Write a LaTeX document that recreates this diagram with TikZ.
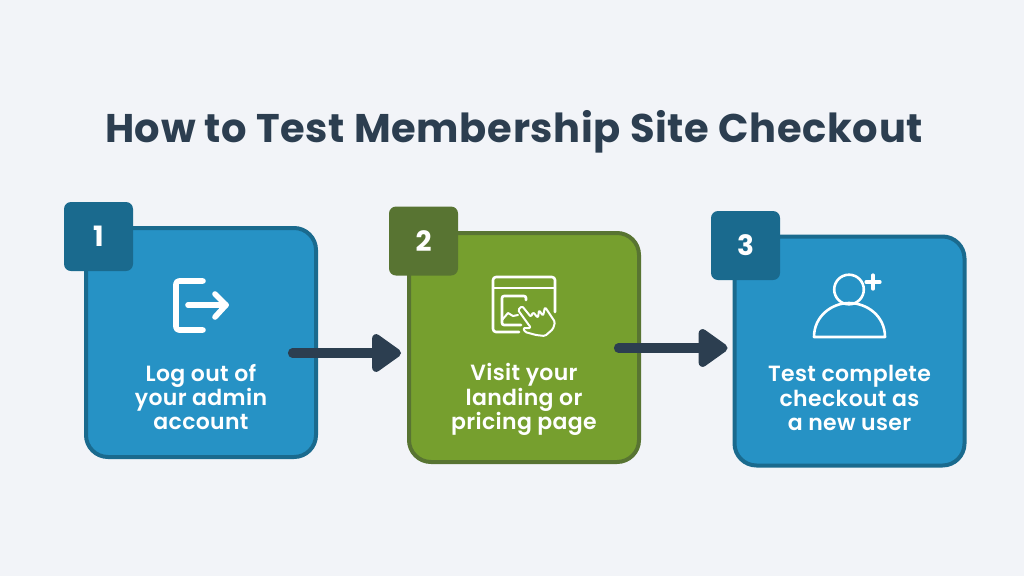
\documentclass[tikz,border=0pt]{standalone}
\usepackage{fontspec}
\usetikzlibrary{arrows.meta}
\setmainfont{Poppins}
\newfontfamily\titlefont[LetterSpace=1.65]{Poppins Bold}
\newfontfamily\labelfont[LetterSpace=1.5]{Poppins SemiBold}
\definecolor{bgc}{HTML}{F2F4F8}
\definecolor{navy}{HTML}{2C3E50}
\definecolor{bluef}{HTML}{2692C5}
\definecolor{blued}{HTML}{1A6A8E}
\definecolor{greenf}{HTML}{769F2E}
\definecolor{greend}{HTML}{587432}
\tikzset{
  x=1pt,y=-1pt,
  card/.style={draw=#1,line width=4pt,rounded corners=22pt,minimum width=230pt,minimum height=229pt,inner sep=0pt},
  badge/.style={fill=#1,rounded corners=7pt,minimum width=69pt,minimum height=69pt,inner sep=0pt,text=white,font=\fontsize{28}{28}\selectfont\bfseries},
  steptext/.style={text=white,align=center,font=\fontsize{22}{24.3}\labelfont,inner sep=0pt},
  flow/.style={draw=navy,line width=9.2pt,line cap=round,-{Triangle[length=32pt,width=43pt,round]}},
  iconthick/.style={draw=white,line width=5.6pt,line cap=round,line join=round},
  iconthin/.style={draw=white,line width=2.6pt,line cap=round,line join=round},
  iconhand/.style={draw=white,line width=2pt,line cap=round,line join=round}
}
\begin{document}
\begin{tikzpicture}
\useasboundingbox[fill=bgc] (0,0) rectangle (1024,576);
\node[text=navy,font=\fontsize{40}{40}\titlefont,inner sep=0pt] (title) at (514,132) {How to Test Membership Site Checkout};
\node[card=blued,fill=bluef] (box1) at (201,342.5) {};
\node[card=greend,fill=greenf] (box2) at (524,347.5) {};
\node[card=blued,fill=bluef] (box3) at (849.5,351) {};
\node[badge=blued] (b1) at (98.5,236.5) {1};
\node[badge=greend] (b2) at (423.5,241) {2};
\node[badge=blued] (b3) at (745.5,245.5) {3};
\node[steptext] (t1) at (201,397) {Log out of\\your admin\\account};
\node[steptext] (t2) at (524,399.5) {Visit your\\landing or\\pricing page};
\node[steptext] (t3) at (849.5,398) {Test complete\\checkout as\\a new user};
\coordinate (a1s) at (292.5,353);
\coordinate (a1e) at (401,353);
\coordinate (a2s) at (618.5,348);
\coordinate (a2e) at (727.5,348);
\draw[flow] (a1s) -- (a1e);
\draw[flow] (a2s) -- (a2e);
% icon 1
\draw[iconthick,rounded corners=3pt] (203,281) -- (176,281) -- (176,330) -- (203,330);
\draw[iconthick] (188,305) -- (226,305);
\draw[iconthick] (215,294) -- (226,305) -- (215,317);
% icon 2
\draw[iconthin,rounded corners=3pt] (555,312) -- (555,277) -- (493,277) -- (493,332) -- (519,332);
\draw[iconthin] (493,288) -- (555,288);
\draw[iconthin,rounded corners=2pt] (526,300) -- (526,296) -- (502,296) -- (502,325) -- (521,325);
\draw[iconhand] (502,320) -- (508,313) -- (513,316) -- (518,315);
\draw[iconhand,rounded corners=1.5pt] (531,328) -- (518,310) -- (522,306) -- (531,317) -- (533,312) -- (538,318) -- (539,310) -- (543,316) -- (545,307) -- (555,322) -- (553,329) -- (545,336) -- (536,335) -- (525,332) -- (523,328) -- cycle;
% icon 3
\draw[iconthin] (849,289.5) circle (14.8);
\draw[iconthin] (814,337) .. controls (814,316) and (832,303) .. (849,303) .. controls (867,303) and (885,316) .. (885,337) -- cycle;
\draw[iconthin,line width=3.2pt] (866,282) -- (880,282);
\draw[iconthin,line width=3.2pt] (873,275) -- (873,289);
\end{tikzpicture}
\end{document}
